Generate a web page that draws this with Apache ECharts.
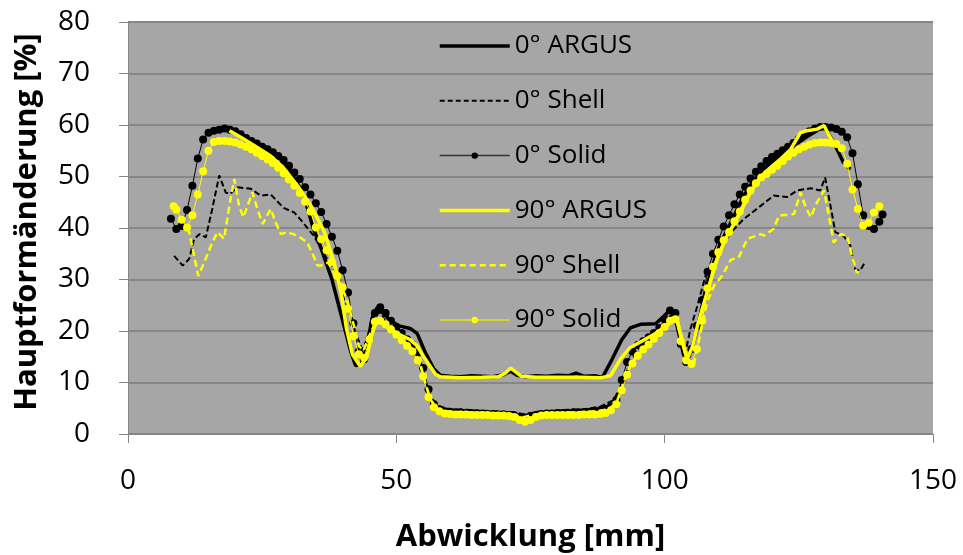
<!DOCTYPE html>
<html>
<head>
<meta charset="utf-8">
<script src="https://cdn.jsdelivr.net/npm/echarts@6/dist/echarts.min.js"></script>
<style>
html,body{margin:0;padding:0;background:#fff;}
#chart{width:963px;height:555px;}
</style>
</head>
<body>
<div id="chart"></div>
<script>
const seriesNames = ['0° ARGUS', '0° Shell', '0° Solid', '90° ARGUS', '90° Shell', '90° Solid'];
const xTicks = [0, 50, 100, 150];
const yTicks = [0, 10, 20, 30, 40, 50, 60, 70, 80];

const argus0 = [[18.5,59.6],[20,58.9],[22,57.7],[24,56.5],[26,55.2],[28,53.9],[30,51.5],[32,47.9],[33,45.5],[34.5,40],[36,36],[38,30],[40.5,20],[41.5,16],[42.4,13.3],[43.5,13.5],[44.5,17],[45.5,22.5],[46.4,24.5],[47.5,23.5],[48.9,22.0],[50.5,21.0],[52.6,20.5],[53.9,19.5],[55.4,15.8],[57.0,12.6],[58.2,11.4],[60,11.2],[62,11.1],[64,11.3],[66,11.2],[68,11.1],[70,11.5],[71.3,12.2],[72.5,11.4],[74,11.1],[76,11.3],[78,11.2],[80,11.4],[82,11.3],[83.5,11.8],[85,11.2],[87,11.3],[88.4,11.0],[90.2,14.5],[92,18.3],[93.6,20.6],[95.5,21.3],[98.3,21.4],[99.8,22.8],[101.1,24.2],[102.2,21.5],[103.5,15.5],[104.2,14.0],[105.3,17.5],[106.5,22.5],[107.3,26],[108.5,31.3],[110.4,37.1],[112.3,41],[114.7,46.2],[116.5,49.2],[118.5,51.5],[120.5,53.3],[122.5,54.8],[124.5,56.3],[126.5,57.7],[128.5,59.0],[129.7,59.8],[131.5,56.6],[133.3,52.7],[134.6,51.4]];

const shell0 = [[8.6,34.6],[10.2,32.7],[11.4,34],[12.3,37.8],[13.3,38.8],[14.5,38.2],[15.7,43.7],[17.0,50.2],[18.2,46.9],[19.0,46.6],[20.4,47.9],[22.9,47.6],[24.7,46.3],[26.6,46.5],[29.0,43.9],[31.0,43.0],[32.5,41.2],[34.6,38.5],[37.1,34.0],[39.3,30.1],[40.8,24.9],[42.4,19.7],[43.6,16.5],[44.6,18.4],[45.5,23.0],[46.6,24.0],[48.9,20.4],[52.0,17.1],[53.9,14.6],[55.4,10.0],[56.7,6.8],[57.9,5.4],[60,4.8],[63,4.7],[66,4.5],[69,4.4],[72,4.2],[74,3.8],[76,4.3],[79,4.5],[82,4.7],[85,4.8],[88,5.3],[90.5,6.6],[92.1,9.9],[93.6,13.8],[94.5,15.5],[96.7,18.4],[100.5,22.3],[101.7,23.6],[103.3,16.5],[103.9,15.9],[104.8,20.4],[106.1,24.9],[107.6,30.7],[109.8,35],[112.3,39.1],[114.7,41.7],[117.9,44.3],[120.3,46.3],[122.8,46.0],[124.7,47.3],[127.2,47.7],[129.0,47.3],[129.9,49.8],[130.9,44.3],[131.8,39.2],[133.3,38.5],[134.6,36.6],[135.5,32.0],[136.4,31.7],[137.3,33.3]];

const solid0 = [[8,41.8],[9,39.8],[10,40.4],[11,43.5],[12,48.2],[13,53.5],[14,57.2],[15,58.5],[16,58.9],[17,59.1],[18,59.3],[19,59.1],[20,58.8],[21,58.2],[22,57.5],[23,56.9],[24,56.4],[25,55.8],[26,55.3],[27,54.7],[28,54.0],[29,53.2],[30,52.1],[31,50.8],[32,49.5],[33,47.9],[34,46.5],[35,44.8],[36,43.1],[37,40.8],[38,38.3],[39,35.6],[40,31.8],[41,27.5],[42,21.5],[43,16.0],[44,14.5],[45,18.5],[46,23.5],[47,24.6],[48,23.5],[49,22.0],[50,20.8],[51,19.6],[52,18.4],[53,17.4],[54,15.8],[55,12.8],[56,8.7],[57,5.8],[58,4.8],[59,4.4],[60,4.3],[61,4.2],[62,4.2],[63,4.1],[64,4.1],[65,4.0],[66,4.0],[67,3.9],[68,3.9],[69,3.8],[70,3.8],[71,3.7],[72,3.6],[73,3.3],[74,3.2],[75,3.5],[76,3.7],[77,3.9],[78,4.0],[79,4.0],[80,4.1],[81,4.1],[82,4.1],[83,4.2],[84,4.2],[85,4.2],[86,4.3],[87,4.4],[88,4.6],[89,4.9],[90,5.4],[91,6.6],[92,10.5],[93,14.0],[94,16.0],[95,17.3],[96,18.0],[97,18.8],[98,19.6],[99,20.6],[100,22.3],[101,24.0],[102,23.5],[103,17.5],[104,14.0],[105,16.5],[106,21.0],[107,26.0],[108,31.5],[109,35.0],[110,37.7],[111,40.3],[112,42.5],[113,44.6],[114,46.5],[115,48.0],[116,49.6],[117,50.9],[118,52.0],[119,53.0],[120,53.8],[121,54.4],[122,55.1],[123,55.8],[124,56.5],[125,57.3],[126,58.1],[127,58.8],[128,59.3],[129,59.6],[130,59.6],[131,59.5],[132,59.2],[133,58.7],[134,57.6],[135,54.5],[136,48.5],[137,42.5],[138,40.4],[139,39.8],[140,41.2],[140.6,42.6]];

const argus90 = [[18.9,58.9],[21,57.6],[23.5,56.0],[26.6,54.0],[29.1,51.5],[31.6,48.2],[34.1,44.3],[36.6,39.2],[38.4,33.3],[39.7,27.5],[40.7,20.5],[41.8,15.5],[43.3,13.1],[44.5,15.0],[45.5,19.5],[46.4,22.3],[48,21.0],[50.2,19.5],[52.6,18.3],[53.8,17.2],[55.1,15.0],[57.3,11.6],[58.2,11.1],[62,10.9],[66,11.0],[69,11.1],[70.3,11.8],[71.3,12.8],[72.3,12.0],[73.3,11.2],[76,11.0],[80,11.0],[84,11.0],[88,10.9],[89.9,11.3],[91.8,14.6],[93.6,16.8],[96.4,18.4],[98.6,19.7],[101.1,21.8],[102.3,22.3],[103.2,18.5],[104.2,14.6],[105.2,17],[106.1,21],[107.9,27.5],[109.8,34],[111.6,38.4],[114.1,43],[116.0,46.9],[117.9,50.0],[119,51.0],[121.6,53.4],[123.5,55.3],[125.3,58.5],[126.5,58.9],[128.4,59.2],[129.7,59.9],[130.5,58.2],[131.3,56.8]];

const shell90 = [[11.0,40.0],[11.4,39.2],[13.1,30.7],[14.2,33.3],[15.7,37.2],[16.7,39.2],[17.9,37.9],[18.9,44.3],[19.8,49.5],[20.7,44.3],[21.5,42.1],[23.2,46.9],[24.1,43.7],[25.1,40.8],[26.6,43.7],[27.5,41.1],[28.5,38.8],[29.7,39.2],[31.6,38.5],[33.4,37.2],[34.4,35.0],[35.3,32.7],[35.9,32.7],[37.3,33.3],[38.5,31],[39.8,28.5],[40.8,26.2],[42.1,21.0],[43.0,17.1],[43.9,16.2],[45.2,19.7],[46.4,22.3],[48.5,20.5],[51,18.5],[53,16.5],[54.5,13.5],[55.5,9.5],[56.5,6.5],[57.8,4.8],[60,4.3],[63,4.2],[66,4.1],[69,3.9],[72,3.7],[73.5,3.2],[75,3.6],[78,4.0],[81,4.1],[84,4.2],[87,4.4],[89.5,4.8],[91,6.0],[92,9.0],[93.2,12.5],[95,15.5],[97,17.5],[99.5,19.8],[101.3,21.8],[102.3,22.0],[103.3,17.5],[104.3,14.0],[105.4,13.3],[106.7,19.7],[107.9,25.6],[109.2,28.8],[110.7,30.7],[112.3,33.8],[113.8,34.3],[115.4,37.9],[117.9,38.8],[118.5,38.5],[120.3,39.8],[121.3,42.4],[124.1,42.7],[125.3,46.9],[126.2,44.3],[127.2,42.1],[128.4,45.0],[129.7,47.3],[130.6,42.4],[131.5,37.2],[132.8,38.8],[134.0,38.5],[134.9,34.6],[135.8,31.4],[136.2,31.4]];

const solid90 = [[8.5,44.2],[9,43.6],[10,41.6],[11,40.1],[12,42.5],[13,46.5],[14,51.0],[15,55.0],[16,56.7],[17,56.9],[18,56.9],[19,56.8],[20,56.6],[21,56.2],[22,55.8],[23,55.3],[24,54.6],[25,54.0],[26,53.3],[27,52.6],[28,51.7],[29,50.6],[30,49.4],[31,48.2],[32,46.8],[33,45.1],[34,43.2],[35,40.1],[36,37.8],[37,35.7],[38,33.4],[39,30.7],[40,28.5],[41,24.3],[42,19.0],[43,15.5],[44,14.8],[45,18.4],[46,21.8],[47,22.0],[48,21.3],[49,20.3],[50,19.3],[51,18.2],[52,17.1],[53,16.0],[54,14.3],[55,11.2],[56,7.2],[57,5.2],[58,4.4],[59,4.0],[60,3.9],[61,3.8],[62,3.8],[63,3.8],[64,3.7],[65,3.7],[66,3.7],[67,3.7],[68,3.6],[69,3.6],[70,3.6],[71,3.5],[72,3.3],[73,2.7],[74,2.4],[75,2.7],[76,3.3],[77,3.6],[78,3.7],[79,3.7],[80,3.7],[81,3.7],[82,3.7],[83,3.7],[84,3.7],[85,3.8],[86,3.8],[87,3.8],[88,3.9],[89,4.1],[90,4.6],[91,5.8],[92,8.5],[93,11.5],[94,13.7],[95,15.2],[96,16.4],[97,17.4],[98,18.5],[99,19.6],[100,20.8],[101,22.0],[102,22.3],[103,18.0],[104,14.3],[105,13.6],[106,16.5],[107,22.0],[108,28.3],[109,32.5],[110,35.3],[111,37.6],[112,39.2],[113,41.3],[114,43.2],[115,45.5],[116,47.3],[117,48.7],[118,49.8],[119,50.5],[120,51.3],[121,52.1],[122,53.0],[123,53.9],[124,54.6],[125,55.3],[126,55.8],[127,56.2],[128,56.5],[129,56.6],[130,56.6],[131,56.5],[132,56.3],[133,55.5],[134,52.5],[135,47.5],[136,43.7],[137,40.5],[138,41.0],[139,43.0],[140,44.2]];

const FONT = '"Open Sans", Lato, sans-serif';
const chart = echarts.init(document.getElementById('chart'), null, {renderer: 'canvas'});

const hidden = {opacity: 0, color: 'rgba(0,0,0,0)', borderWidth: 0};
const legendData = [
  {name: seriesNames[0], itemStyle: hidden, lineStyle: {color: '#000000', width: 3.5}},
  {name: seriesNames[1], itemStyle: hidden, lineStyle: {color: '#000000', width: 2, type: [5, 3]}},
  {name: seriesNames[2], lineStyle: {color: '#333333', width: 1.5}},
  {name: seriesNames[3], itemStyle: hidden, lineStyle: {color: '#ffff00', width: 3.5}},
  {name: seriesNames[4], itemStyle: hidden, lineStyle: {color: '#ffff00', width: 2.5, type: [6, 4]}},
  {name: seriesNames[5], lineStyle: {color: '#e6e600', width: 1.5}}
];

chart.setOption({
  animation: false,
  backgroundColor: '#ffffff',
  textStyle: {fontFamily: FONT},
  grid: {
    left: 128, right: 30, top: 22, bottom: 121,
    outerBoundsMode: 'none', containLabel: false,
    show: true, backgroundColor: '#a6a6a6', borderWidth: 0
  },
  legend: {
    orient: 'vertical',
    left: 433, top: 26,
    itemWidth: 70, itemHeight: 8, itemGap: 24.8,
    data: legendData,
    textStyle: {fontSize: 26, color: '#000', fontFamily: FONT, lineHeight: 30}
  },
  xAxis: {
    type: 'value', min: xTicks[0], max: xTicks[xTicks.length-1], interval: 50,
    name: 'Abwicklung [mm]', nameLocation: 'middle', nameGap: 88,
    nameTextStyle: {fontSize: 31, fontWeight: 'bold', color: '#000', fontFamily: FONT},
    axisLine: {show: true, lineStyle: {color: '#868686', width: 1}},
    axisTick: {show: true, length: 9, lineStyle: {color: '#868686'}},
    axisLabel: {fontSize: 28, color: '#000', margin: 33, fontFamily: FONT},
    splitLine: {show: false}
  },
  yAxis: {
    type: 'value', min: yTicks[0], max: yTicks[yTicks.length-1], interval: 10,
    name: 'Hauptformänderung [%]', nameLocation: 'middle', nameGap: 85, nameRotate: 90,
    nameTextStyle: {fontSize: 31, fontWeight: 'bold', color: '#000', fontFamily: FONT, padding: [0, 0, 0, 12]},
    axisLine: {show: true, lineStyle: {color: '#868686', width: 1}},
    axisTick: {show: true, length: 9, lineStyle: {color: '#868686'}},
    axisLabel: {fontSize: 28, color: '#000', margin: 38, fontFamily: FONT},
    splitLine: {show: true, lineStyle: {color: '#878787', width: 2}}
  },
  series: [
    {name: seriesNames[0], type: 'line', data: argus0, symbol: 'none', showSymbol: false,
     lineStyle: {color: '#000000', width: 3.5}, itemStyle: {color: '#000000'}, z: 2},
    {name: seriesNames[1], type: 'line', data: shell0, symbol: 'none', showSymbol: false,
     lineStyle: {color: '#000000', width: 2, type: [6, 3]}, itemStyle: {color: '#000000'}, z: 2},
    {name: seriesNames[2], type: 'line', data: solid0, symbol: 'circle', symbolSize: 8,
     lineStyle: {color: '#000000', width: 1}, itemStyle: {color: '#000000'}, z: 2},
    {name: seriesNames[3], type: 'line', data: argus90, symbol: 'none', showSymbol: false,
     lineStyle: {color: '#ffff00', width: 3.5}, itemStyle: {color: '#ffff00'}, z: 3},
    {name: seriesNames[4], type: 'line', data: shell90, symbol: 'none', showSymbol: false,
     lineStyle: {color: '#ffff00', width: 2.5, type: [7, 4]}, itemStyle: {color: '#ffff00'}, z: 3},
    {name: seriesNames[5], type: 'line', data: solid90, symbol: 'circle', symbolSize: 8,
     lineStyle: {color: '#ffff00', width: 1}, itemStyle: {color: '#ffff00'}, z: 3}
  ]
});
</script>
</body>
</html>
